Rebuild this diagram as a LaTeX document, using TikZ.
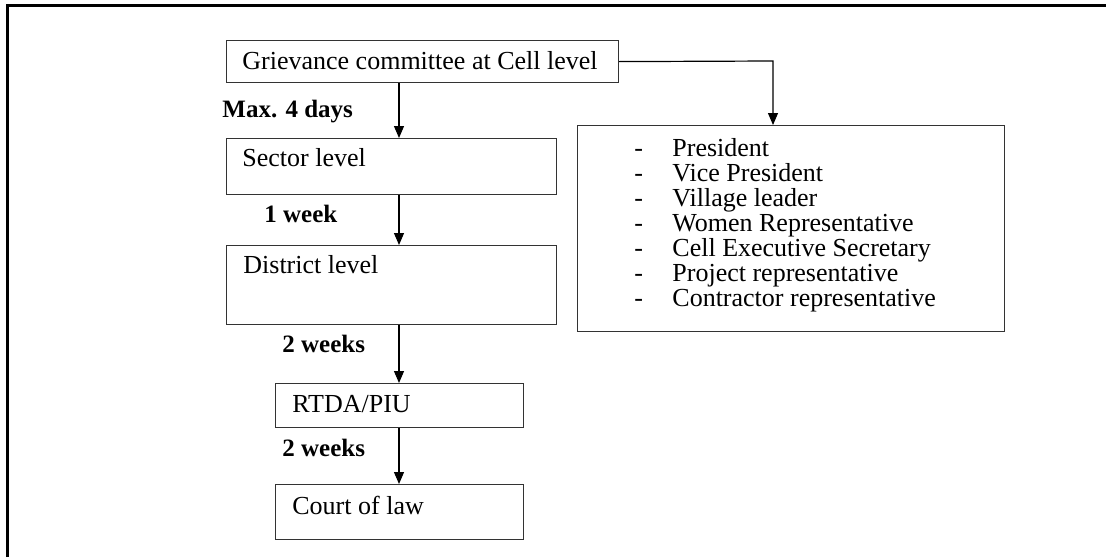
\documentclass[tikz,border=0pt]{standalone}
\usepackage{fontspec}
\setmainfont{Liberation Serif}
\usepackage{tikz}
\usetikzlibrary{arrows.meta,positioning}

\tikzset{
    box/.style={draw=black!80, line width=0.6pt, anchor=north west, inner sep=0pt},
    boxtext/.style={anchor=west, inner sep=0pt, font=\fontsize{13}{15}\selectfont},
    itemtext/.style={anchor=base west, inner sep=0pt, font=\fontsize{13}{15}\selectfont},
    delay/.style={anchor=west, inner sep=0pt, font=\fontsize{12.5}{15}\selectfont\bfseries},
    flow/.style={line width=0.6pt, -{Triangle[width=5pt,length=6pt]}}
}

\begin{document}
\begin{tikzpicture}[x=0.5pt, y=-0.5pt]
    %%Background
    \useasboundingbox (0,0) rectangle (1106,557);
    \draw[line width=1.5pt] (7,557) -- (7,5.5) -- (1106,5.5);
    %%Boxes
    \node[box, minimum width=196pt, minimum height=21pt] (cell) at (226,40) {};
    \node[boxtext] (celltxt) at (242,61) {Grievance committee at Cell level};
    \node[box, minimum width=165pt, minimum height=28pt] (sector) at (226,138) {};
    \node[boxtext] (sectortxt) at (242,158) {Sector level};
    \node[box, minimum width=165pt, minimum height=39.5pt] (district) at (226,245) {};
    \node[boxtext] (districttxt) at (243,265) {District level};
    \node[box, minimum width=124pt, minimum height=22pt] (rtda) at (275,383) {};
    \node[boxtext] (rtdatxt) at (292,404) {RTDA/PIU};
    \node[box, minimum width=124pt, minimum height=27.5pt] (court) at (275,484) {};
    \node[boxtext] (courttxt) at (292,505) {Court of law};
    \node[box, minimum width=213.5pt, minimum height=103pt] (members) at (577,125) {};
    %%Members
    \foreach \name [count=\i from 0] in {President, Vice President, Village leader,
        Women Representative, Cell Executive Secretary, Project representative,
        Contractor representative}
    {
        \node[itemtext] (dash\i) at (634,156+25*\i) {-};
        \node[itemtext] (mem\i) at (672,156+25*\i) {\name};
    }
    %%Delays
    \node[delay] (d1) at (222,112) {Max. 4 days};
    \node[delay] (d2) at (264,214) {1 week};
    \node[delay] (d3) at (282,344) {2 weeks};
    \node[delay] (d4) at (282,448) {2 weeks};
    %%Arrows
    \coordinate (axis) at (399,0);
    \coordinate (split) at (773,61);
    \draw[flow] (cell.south -| axis) -- (sector.north -| axis);
    \draw[flow] (sector.south -| axis) -- (district.north -| axis);
    \draw[flow] (district.south -| axis) -- (rtda.north -| axis);
    \draw[flow] (rtda.south -| axis) -- (court.north -| axis);
    \draw[flow] (cell.east) -- (split) -- (split |- members.north);
\end{tikzpicture}
\end{document}
